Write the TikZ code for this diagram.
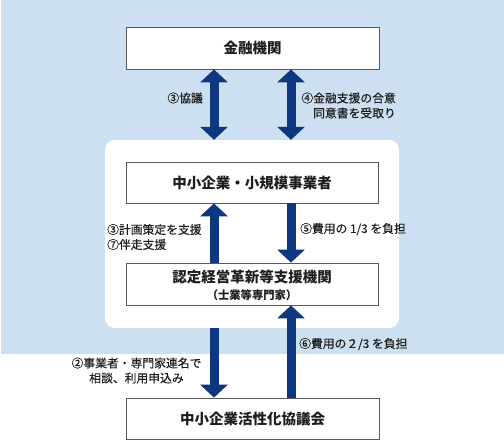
\documentclass[tikz,border=0pt]{standalone}
\usepackage{fontspec}
\setmainfont{Noto Sans CJK JP}
\newfontfamily\lblfont[FakeBold=0.35]{Noto Sans CJK JP}
\usetikzlibrary{arrows.meta}
\definecolor{bgblue}{RGB}{204,224,241}
\definecolor{navy}{RGB}{14,55,128}
\definecolor{boxline}{RGB}{90,90,90}
\definecolor{txt}{RGB}{30,30,30}
\tikzset{
  box/.style={draw=boxline, line width=0.8pt, fill=white, minimum width=253pt, minimum height=42pt, inner sep=0pt, text=txt, font=\fontsize{14.5}{18}\selectfont\bfseries, align=center},
  lbl/.style={inner sep=0pt, text=txt, font=\lblfont\fontsize{11.8}{15}\selectfont},
  bigarrow/.style={draw=navy, line width=9pt, -{Triangle[width=27pt,length=13pt]}},
  dblarrow/.style={draw=navy, line width=9pt, {Triangle[width=27pt,length=13pt]}-{Triangle[width=27pt,length=13pt]}},
}
\begin{document}
\begin{tikzpicture}[x=1pt,y=-1pt]
\useasboundingbox (0,0) rectangle (504,445);
\fill[white] (0,0) rectangle (504,445);
\fill[bgblue] (1,0) rectangle (504,354);
\node[fill=white, rounded corners=10pt, minimum width=294pt, minimum height=188pt, inner sep=0pt] (panel) at (252,234) {};
\node[box] (kin) at (252.5,48) {金融機関};
\node[box, minimum width=252pt, minimum height=41pt] (chusho) at (252,182.5) {中小企業・小規模事業者};
\node[box, minimum width=252pt] (nintei) at (252,284) {};
\node[inner sep=0pt, text=txt, font=\fontsize{14.5}{18}\selectfont\bfseries] (ninteiA) at (252,277) {認定経営革新等支援機関};
\node[inner sep=0pt, text=txt, font=\fontsize{11.3}{13}\selectfont\bfseries] (ninteiB) at (252,295.5) {（士業等専門家）};
\node[box, minimum height=41pt] (kyogi) at (252.5,418.5) {中小企業活性化協議会};
% arrows
\draw[dblarrow] ([xshift=-38.5pt]kin.south) -- ([xshift=-38pt]panel.north);
\draw[dblarrow] ([xshift=38.5pt]kin.south) -- ([xshift=39pt]panel.north);
\draw[bigarrow] ([xshift=-38pt]nintei.north) -- ([xshift=-38pt]chusho.south);
\draw[bigarrow] ([xshift=39pt]chusho.south) -- ([xshift=39pt]nintei.north);
\draw[bigarrow] ([xshift=-38pt]panel.south) -- ([xshift=-38.5pt]kyogi.north);
\draw[bigarrow] ([xshift=38.5pt]kyogi.north) -- ([xshift=39pt]nintei.south);
% labels
\node[lbl, anchor=east] (l3) at (203,98) {③協議};
\node[lbl, anchor=east, align=right] (l4) at (396,105.5) {④金融支援の合意\\同意書を受取り};
\node[lbl, anchor=west, align=left] (l37) at (107,237) {③計画策定を支援\\⑦伴走支援};
\node[lbl, anchor=west] (l5) at (300,229) {⑤費用の 1/3 を負担};
\node[lbl, anchor=west] (l6) at (299,344) {⑥費用の２/3 を負担};
\node[lbl, align=center] (l2) at (136.5,370.5) {②事業者・専門家連名で\\相談、利用申込み};
\end{tikzpicture}
\end{document}
